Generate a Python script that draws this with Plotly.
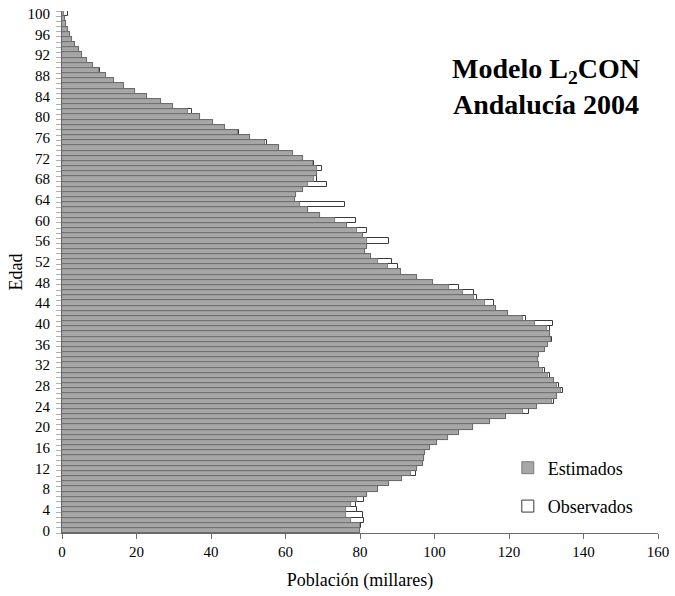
import plotly.graph_objects as go

ages = list(range(0, 101))

estimados = [
    80.0, 80.0, 77.5, 76.2, 76.2, 77.5, 79.3, 81.9, 84.7, 87.9,   # 0-9
    91.2, 93.6, 95.4, 96.8, 97.2, 97.5, 98.7, 100.6, 103.5, 106.5, # 10-19
    110.4, 115.0, 119.3, 123.8, 127.5, 131.5, 133.0, 134.0, 133.0, 132.0, # 20-29
    130.5, 129.1, 128.0, 127.9, 128.1, 129.7, 130.5, 131.2, 131.0, 130.1, # 30-39
    127.1, 123.7, 119.8, 116.6, 113.6, 110.6, 107.6, 104.0, 99.7, 95.4,  # 40-49
    91.0, 87.6, 84.8, 82.9, 81.3, 81.8, 81.8, 80.7, 79.1, 76.6,   # 50-59
    73.3, 69.3, 66.1, 63.9, 62.6, 62.7, 64.6, 66.1, 67.7, 68.4,   # 60-69
    68.5, 67.5, 64.8, 61.9, 58.3, 54.4, 50.4, 47.3, 43.7, 40.5,   # 70-79
    37.1, 33.7, 29.9, 26.5, 22.8, 19.5, 16.7, 14.0, 11.9, 9.8,    # 80-89
    8.2, 6.8, 5.5, 4.5, 3.6, 2.7, 2.1, 1.5, 1.1, 0.8,             # 90-99
    0.5,                                                          # 100
]

observados = [
    80.0, 80.4, 81.1, 80.7, 79.1, 78.9, 81.1, 81.9, 84.7, 87.9,   # 0-9
    91.2, 95.0, 95.4, 96.8, 97.2, 97.5, 98.7, 100.6, 103.5, 106.5, # 10-19
    110.4, 115.0, 119.3, 125.3, 127.5, 132.0, 133.0, 134.5, 133.5, 132.0, # 20-29
    131.0, 129.7, 128.0, 127.9, 128.1, 129.7, 130.5, 131.6, 131.0, 131.0, # 30-39
    131.7, 124.6, 119.8, 116.6, 116.1, 111.4, 110.6, 106.7, 99.7, 95.4,  # 40-49
    91.0, 90.2, 88.7, 82.9, 81.3, 81.8, 87.9, 80.7, 81.8, 76.6,   # 50-59
    78.9, 69.3, 66.1, 76.0, 62.6, 62.7, 64.8, 71.1, 68.5, 68.4,   # 60-69
    69.9, 67.7, 64.8, 61.9, 58.3, 55.0, 50.4, 47.6, 43.7, 40.5,   # 70-79
    37.1, 34.9, 29.9, 26.5, 22.8, 19.5, 16.7, 14.0, 11.9, 10.3,   # 80-89
    8.2, 6.8, 5.5, 4.5, 3.6, 2.7, 2.1, 1.5, 1.1, 0.8,             # 90-99
    1.5,                                                          # 100
]

x_ticks = [0, 20, 40, 60, 80, 100, 120, 140, 160]
y_ticks = list(range(0, 101, 4))

FONT = "Liberation Serif"

fig = go.Figure()
fig.add_trace(go.Bar(
    y=ages, x=observados, orientation="h", name="Observados",
    marker=dict(color="white", line=dict(color="#3a3a3a", width=1)),
    legendgroup="obs", legendrank=2, width=1,
))
fig.add_trace(go.Bar(
    y=ages, x=estimados, orientation="h", name="Estimados",
    marker=dict(color="#a6a6a6", line=dict(color="#6a6a6a", width=0.8)),
    legendgroup="est", legendrank=1, width=1,
))

fig.update_layout(
    width=675, height=596,
    margin=dict(l=62, r=17, t=11, b=63, autoexpand=False),
    paper_bgcolor="white", plot_bgcolor="white",
    barmode="overlay", bargap=0,
    font=dict(family=FONT, size=15, color="black"),
    showlegend=True,
    legend=dict(
        x=0.748, y=0.16, xanchor="left", yanchor="top",
        traceorder="grouped", tracegroupgap=12,
        font=dict(family=FONT, size=18, color="black"),
        bgcolor="rgba(0,0,0,0)", itemwidth=30,
    ),
    annotations=[dict(
        text="<b>Modelo L<sub>2</sub>CON<br>Andalucía 2004</b>",
        x=0.812, y=0.856, xref="paper", yref="paper",
        xanchor="center", yanchor="middle", showarrow=False,
        font=dict(family=FONT, size=28, color="black"), align="center",
    )],
)

fig.update_xaxes(
    range=[0, 160], tickvals=x_ticks, ticktext=[str(v) for v in x_ticks],
    showgrid=False, zeroline=False, automargin=False,
    showline=True, linecolor="#6a6a6a", linewidth=1,
    ticks="outside", ticklen=5, tickcolor="#6a6a6a",
    tickfont=dict(family=FONT, size=15),
    title=dict(text="Población (millares)", font=dict(family=FONT, size=18), standoff=14),
)
fig.update_yaxes(
    range=[-0.5, 100.5], tickvals=y_ticks, ticktext=[str(v) for v in y_ticks],
    showgrid=False, zeroline=False, automargin=False,
    showline=True, linecolor="#6a6a6a", linewidth=1,
    ticks="", ticklabelstandoff=8,
    minor=dict(tickmode="array", tickvals=[a + 0.5 for a in range(-1, 101)],
               ticks="outside", ticklen=5, tickcolor="#b0b0b0", showgrid=False),
    tickfont=dict(family=FONT, size=15),
    title=dict(text="Edad", font=dict(family=FONT, size=18), standoff=0),
)

fig.write_html("out.html")
